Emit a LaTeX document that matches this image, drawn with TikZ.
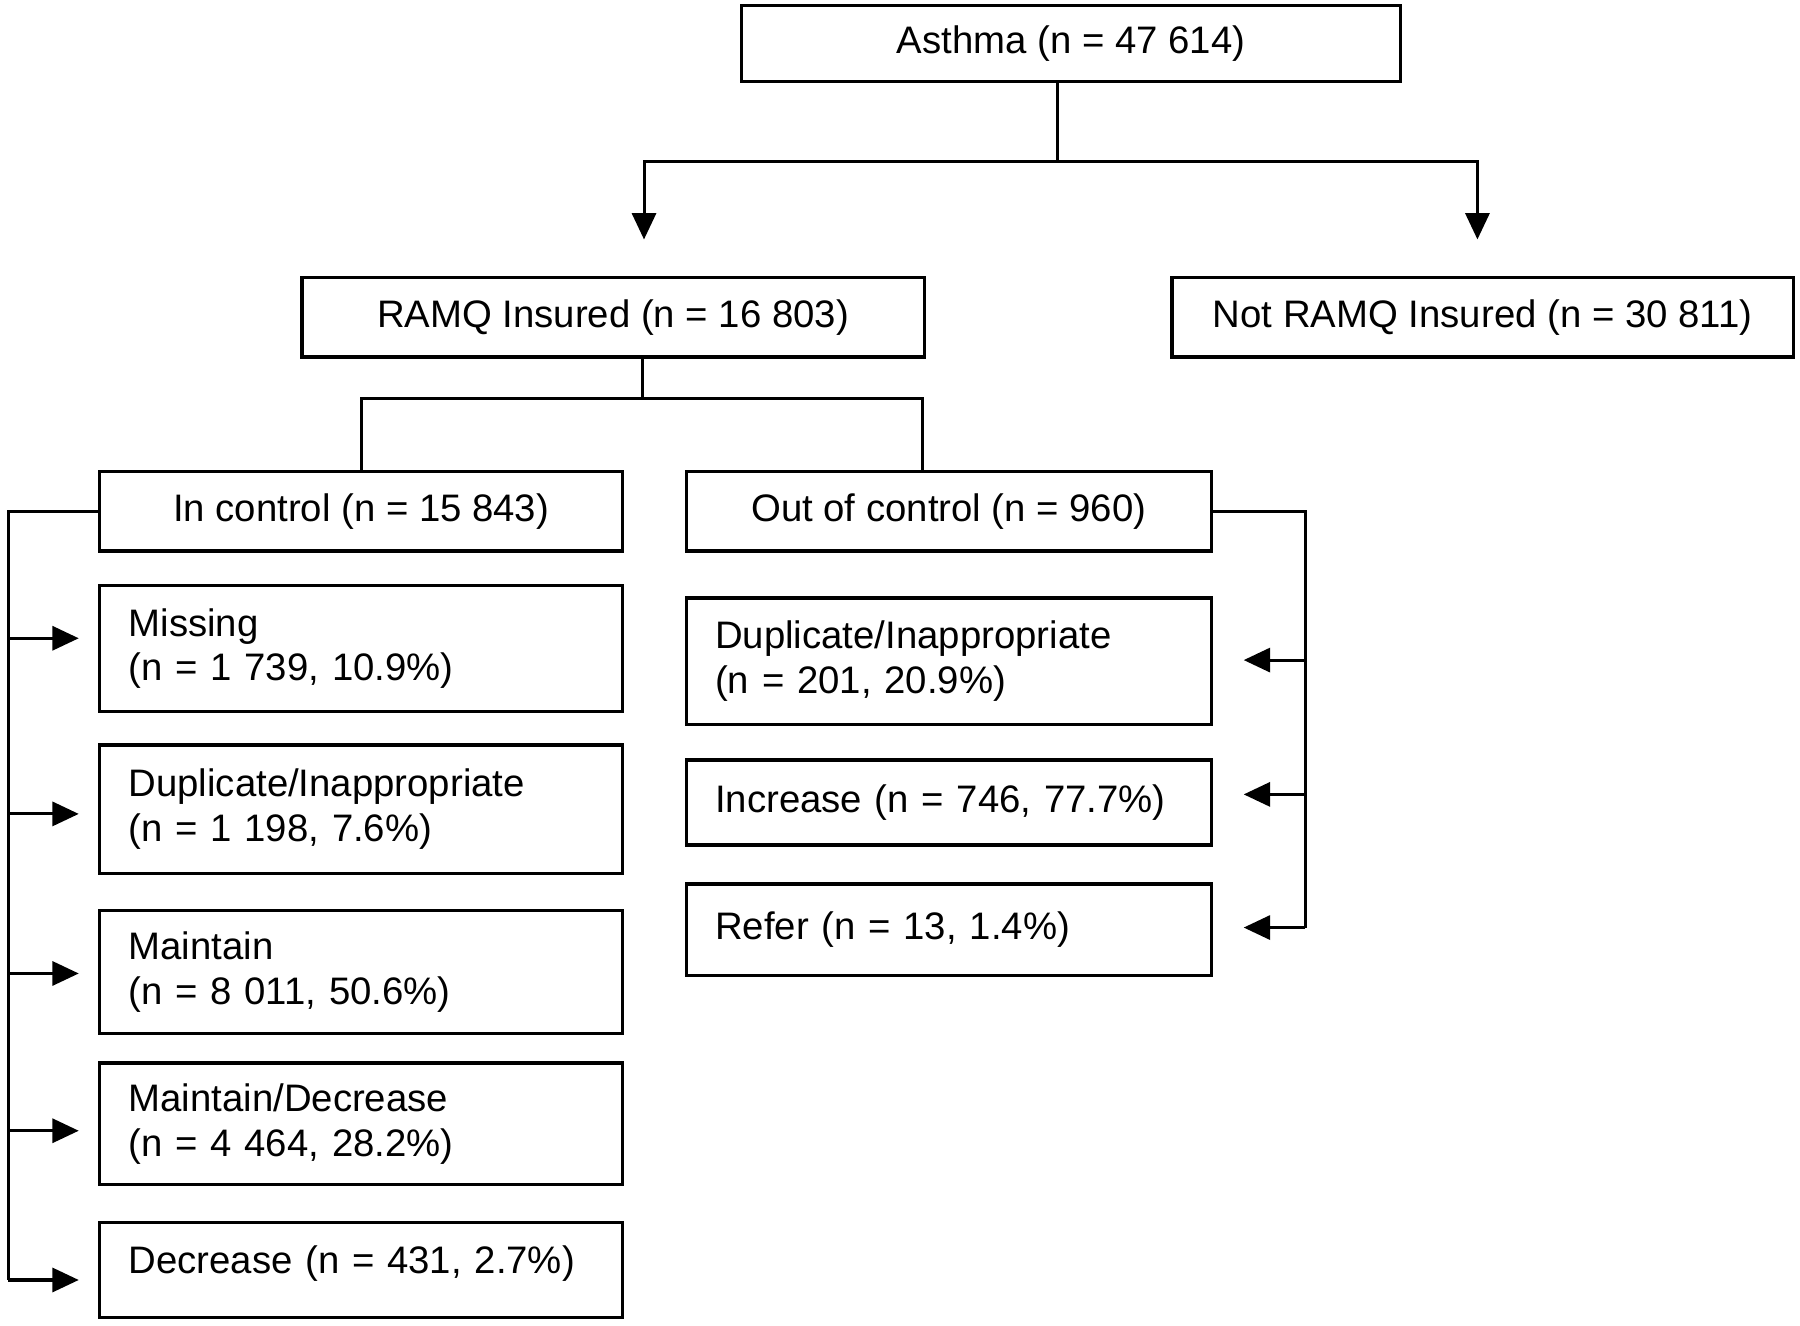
\documentclass[tikz,border=0pt]{standalone}
\usepackage{fontspec}
\setmainfont{Liberation Sans}
\usetikzlibrary{calc}
\usetikzlibrary{arrows.meta}

\begin{document}
\begin{tikzpicture}[font=\fontsize{9.5pt}{11.1pt}\selectfont,
	bx/.style={draw, line width=0.8pt, inner sep=0pt, minimum height=0.69cm},
	sb/.style={draw, line width=0.8pt, inner ysep=0pt, inner xsep=0.25cm, align=left},
	ln/.style={line width=0.75pt},
	ar/.style={line width=0.75pt, -{Triangle[length=2.3mm,width=2.1mm]}}]
\useasboundingbox (0,0) rectangle (15.68,-11.55);

\node (ast) at (9.33,-0.38) [bx,minimum width=5.74cm,minimum height=0.66cm] {Asthma (n = 47 614)};
\node (ins) at (5.34,-2.765) [bx,minimum width=5.42cm] {RAMQ Insured (n = 16 803)};
\node (nins) at (12.915,-2.765) [bx,minimum width=5.41cm] {Not RAMQ Insured (n = 30 811)};
\node (inc) at (3.145,-4.455) [bx,minimum width=4.55cm] {In control (n = 15 843)};
\node (outc) at (8.265,-4.455) [bx,minimum width=4.57cm] {Out of control (n = 960)};

% in control
\foreach \i/\y/\h/\t in {1/5.65/1.10/{Missing\\(n = 1 739, 10.9\%)},
	2/7.05/1.12/{Duplicate/Inappropriate\\(n = 1 198, 7.6\%)},
	3/8.465/1.07/{Maintain\\(n = 8 011, 50.6\%)},
	4/9.79/1.06/{Maintain/Decrease\\(n = 4 464, 28.2\%)},
	5/11.065/0.83/{Decrease (n = 431, 2.7\%)\rule[-5.5pt]{0pt}{0pt}}} {
\node (lc\i) at (3.145,-\y) [sb,text width=4.05cm,minimum height=\h cm] {\t};
}

% out of control
\foreach \i/\y/\h/\t in {1/5.76/1.10/{Duplicate/Inappropriate\\(n = 201, 20.9\%)},
	2/6.99/0.74/{Increase (n = 746, 77.7\%)},
	3/8.10/0.80/{Refer (n = 13, 1.4\%)}} {
\node (rc\i) at (8.265,-\y) [sb,text width=4.07cm,minimum height=\h cm] {\t};
}

\coordinate (sp1) at (9.21,-1.41);
\draw[ln] (ast.south -| sp1) -- (sp1);
\draw[ar,shorten >=3.2mm] (sp1) -| ($(ins.north)+(0.27,0)$);
\draw[ar,shorten >=3.2mm] (sp1) -| ($(nins.north)+(-0.045,0)$);

\coordinate (sp2) at (5.60,-3.47);
\draw[ln] (ins.south -| sp2) -- (sp2);
\draw[ln] (sp2) -| (inc.north);
\draw[ln] (sp2) -| ($(outc.north)+(-0.225,0)$);

\coordinate (lt) at (0.07,-4.455);
\draw[ln] (inc.west) -- (lt) -- ($(lt |- lc5.west)+(0,-0.085)$);
\foreach \i/\d in {1/0.09,2/-0.04,3/-0.015,4/-0.06,5/-0.085} {
\draw[ar,shorten >=1.7mm] ($(lt |- lc\i.west)+(0,\d)$) -- ($(lc\i.west)+(0,\d)$);
}

\coordinate (rt) at (11.37,-4.455);
\draw[ln] (outc.east) -- (rt) -- ($(rt |- rc3.east)+(0,0.02)$);
\foreach \i/\d in {1/0.01,2/0.07,3/0.02} {
\draw[ar,shorten >=2.7mm] ($(rt |- rc\i.east)+(0,\d)$) -- ($(rc\i.east)+(0,\d)$);
}
\end{tikzpicture}
\end{document}
